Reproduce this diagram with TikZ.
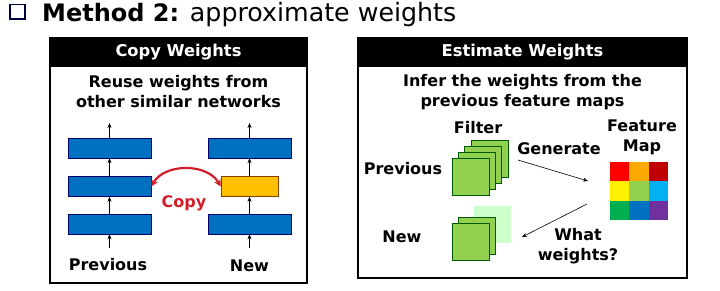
\documentclass[tikz,border=0pt]{standalone}
\usepackage{fontspec}
\setmainfont{DejaVu Sans}
\usetikzlibrary{arrows.meta,positioning,calc}
\definecolor{layerblue}{RGB}{0,112,192}
\definecolor{layeryellow}{RGB}{255,192,0}
\definecolor{filtgreen}{RGB}{146,208,80}
\definecolor{copyred}{RGB}{210,30,40}

\begin{document}
\begin{tikzpicture}[x=1pt, y=-1pt,
    panel/.style={draw, line width=1.6pt},
    header/.style={fill=black, text=white, font=\bfseries\fontsize{16.3}{16}\selectfont},
    txt/.style={font=\bfseries\fontsize{16}{20}\selectfont, align=center, inner sep=0pt},
    layer/.style={rectangle, draw=blue!40!black, fill=layerblue, minimum width=83pt, minimum height=20pt, inner sep=0pt},
    filt/.style={rectangle, draw=green!35!black, fill=filtgreen, minimum size=37pt, inner sep=0pt},
    arrow/.style={-{Stealth[length=5pt,width=4pt]}, semithick},
]
    \useasboundingbox (0,0) rectangle (720,290);

    % Title
    \draw[draw=blue!25!black, line width=1.3pt] (10,4.5) rectangle (25,19);
    \node[anchor=base west, inner sep=0pt, font=\fontsize{25.3}{25}\selectfont] (title) at (42,21) {{\fontsize{24}{24}\selectfont\textbf{Method 2:}} approximate weights};

    % Left panel: copy weights
    \draw[panel] (50,38) rectangle (307,283);
    \fill (50,38) rectangle (307,67);
    \node[header] (copyhdr) at (178.5,52.5) {Copy Weights};
    \node[txt] (copytxt) at (178.5,92) {Reuse weights from\\other similar networks};

    % Previous network
    \node[layer] (p1) at (109.5,148) {};
    \node[layer] (p2) at (109.5,186.5) {};
    \node[layer] (p3) at (109.5,224) {};
    \coordinate (pin) at (109.5,248);
    \coordinate (pout) at (109.5,123);
    \draw[arrow] (pin) -- (p3.south);
    \draw[arrow] (p3.north) -- (p2.south);
    \draw[arrow] (p2.north) -- (p1.south);
    \draw[arrow] (p1.north) -- (pout);
    \node[txt] (prevlbl) at (108,265) {Previous};

    % New network
    \node[layer] (n1) at (249.5,148) {};
    \node[layer, draw=orange!50!black, fill=layeryellow, minimum width=57pt] (n2) at (249.5,186.5) {};
    \node[layer] (n3) at (249.5,224) {};
    \coordinate (nin) at (249.5,248);
    \coordinate (nout) at (249.5,123);
    \draw[arrow] (nin) -- (n3.south);
    \draw[arrow] (n3.north) -- (n2.south);
    \draw[arrow] (n2.north) -- (n1.south);
    \draw[arrow] (n1.north) -- (nout);
    \node[txt] (newlbl) at (249.5,266) {New};

    % Copy arrow
    \draw[{Stealth[length=7pt,width=7pt]}-{Stealth[length=7pt,width=7pt]}, copyred, line width=2.2pt] (p2.east) to[out=60, in=120] (n2.west);
    \node[txt, text=copyred] (copylbl) at (184,203) {Copy};

    % Right panel: estimate weights
    \draw[panel] (358,38) rectangle (687,278);
    \fill (358,38) rectangle (687,67);
    \node[header] (esthdr) at (522.5,52.5) {Estimate Weights};
    \node[txt] (esttxt) at (522.5,92) {Infer the weights from the\\previous feature maps};

    % Previous filters
    \foreach \i in {3,2,1,0}
        \node[filt] (pf\i) at ({470.5+6.3*\i},{176.5-6*\i}) {};
    \node[txt] (filtlbl) at (478,128) {Filter};
    \node[txt] (prevfilt) at (403,169) {Previous};

    % New filters
    \node[filt, draw=none, fill=green!20] (nf2) at (492.5,224.5) {};
    \node[filt] (nf1) at (477,236) {};
    \node[filt] (nf0) at (470.5,242) {};
    \node[txt] (newfilt) at (402,237) {New};

    % Feature map
    \foreach \c [count=\k from 0] in {{255,0,0},{250,170,0},{192,0,0},{255,240,0},{146,208,80},{0,176,240},{0,176,80},{0,112,192},{112,48,160}} {
        \definecolor{cellcol}{RGB}{\c}
        \pgfmathtruncatemacro{\row}{int(\k/3)}
        \pgfmathtruncatemacro{\col}{mod(\k,3)}
        \node[rectangle, fill=cellcol, minimum size=19.3pt, inner sep=0pt] (fm\k) at ({619.7+19.3*\col},{171.7+19.3*\row}) {};
    }
    \node[txt] (fmlbl) at (642,137.5) {Feature\\Map};

    % Generate / what weights
    \coordinate (genstart) at (518,160);
    \coordinate (genend) at (588,181);
    \draw[arrow] (genstart) -- (genend);
    \node[txt] (genlbl) at (559,149) {Generate};
    \coordinate (whatstart) at (587,204);
    \coordinate (whatend) at (522,237);
    \draw[arrow] (whatstart) -- (whatend);
    \node[txt] (whatlbl) at (578,246.5) {What\\weights?};
\end{tikzpicture}
\end{document}
